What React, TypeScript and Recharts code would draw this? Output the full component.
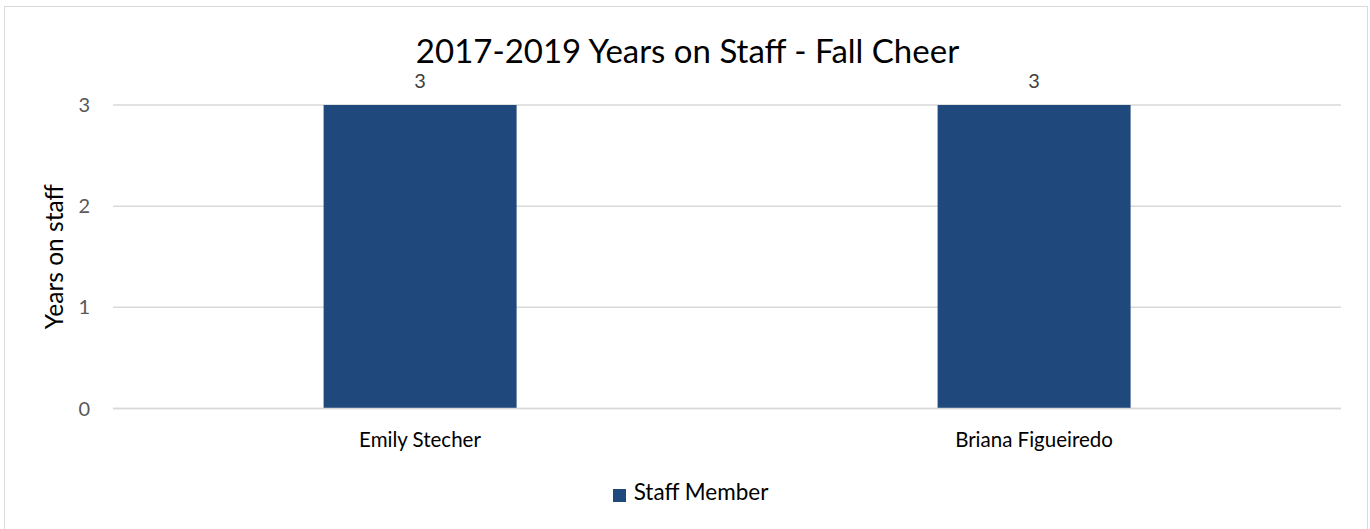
import { BarChart, Bar, XAxis, YAxis, CartesianGrid, Legend, LabelList } from 'recharts';

const staffNames = ['Emily Stecher', 'Briana Figueiredo'];
const yearsOnStaff = [3, 3];
const yTicks = [0, 1, 2, 3];

const chartData = staffNames.map((name, i) => ({ name, years: yearsOnStaff[i] }));

const FONT = 'Lato, "Open Sans", sans-serif';

export default function App() {
  return (
    <div style={{ position: 'absolute', left: 0, top: 0, width: 1370, height: 529, background: '#fff', fontFamily: FONT }}>
      <div
        style={{
          position: 'absolute',
          left: 4,
          top: 6,
          width: 1364,
          height: 530,
          border: '1px solid #d9d9d9',
          boxSizing: 'border-box',
        }}
      />
      <div
        style={{
          position: 'absolute',
          left: 0,
          top: 35,
          width: 1375,
          textAlign: 'center',
          fontSize: 33,
          color: '#000',
          lineHeight: '30px',
        }}
      >
        2017-2019 Years on Staff - Fall Cheer
      </div>
      <BarChart
        width={1370}
        height={529}
        data={chartData}
        margin={{ top: 105, right: 29, left: 0, bottom: 24 }}
        barCategoryGap="34.3%"
        style={{ position: 'absolute', left: 0, top: 0 }}
      >
        <CartesianGrid vertical={false} stroke="#d9d9d9" strokeWidth={1.5} />
        <XAxis
          dataKey="name"
          tickLine={false}
          axisLine={{ stroke: '#d9d9d9', strokeWidth: 1.5 }}
          tick={{ fill: '#000', fontSize: 20.5, fontFamily: FONT }}
          tickMargin={18}
          height={69.5}
        />
        <YAxis
          domain={[0, 3]}
          ticks={yTicks}
          tickLine={false}
          axisLine={false}
          width={113}
          tickMargin={17}
          tick={{ fill: '#595959', fontSize: 20, fontFamily: FONT }}
          label={{
            value: 'Years on staff',
            angle: -90,
            position: 'insideLeft',
            dx: 49,
            style: { textAnchor: 'middle', fill: '#000', fontSize: 24.5, fontFamily: FONT },
          }}
        />
        <Legend
          verticalAlign="bottom"
          iconType="square"
          iconSize={13}
          wrapperStyle={{ paddingLeft: 50, boxSizing: 'border-box' }}
          formatter={(v) => (
            <span style={{ color: '#000', fontSize: 22.5, fontFamily: FONT, marginLeft: 4 }}>{v}</span>
          )}
        />
        <Bar dataKey="years" name="Staff Member" fill="#1f497d" isAnimationActive={false}>
          <LabelList dataKey="years" position="top" offset={17} fill="#404040" fontSize={20} fontFamily={FONT} />
        </Bar>
      </BarChart>
    </div>
  );
}
